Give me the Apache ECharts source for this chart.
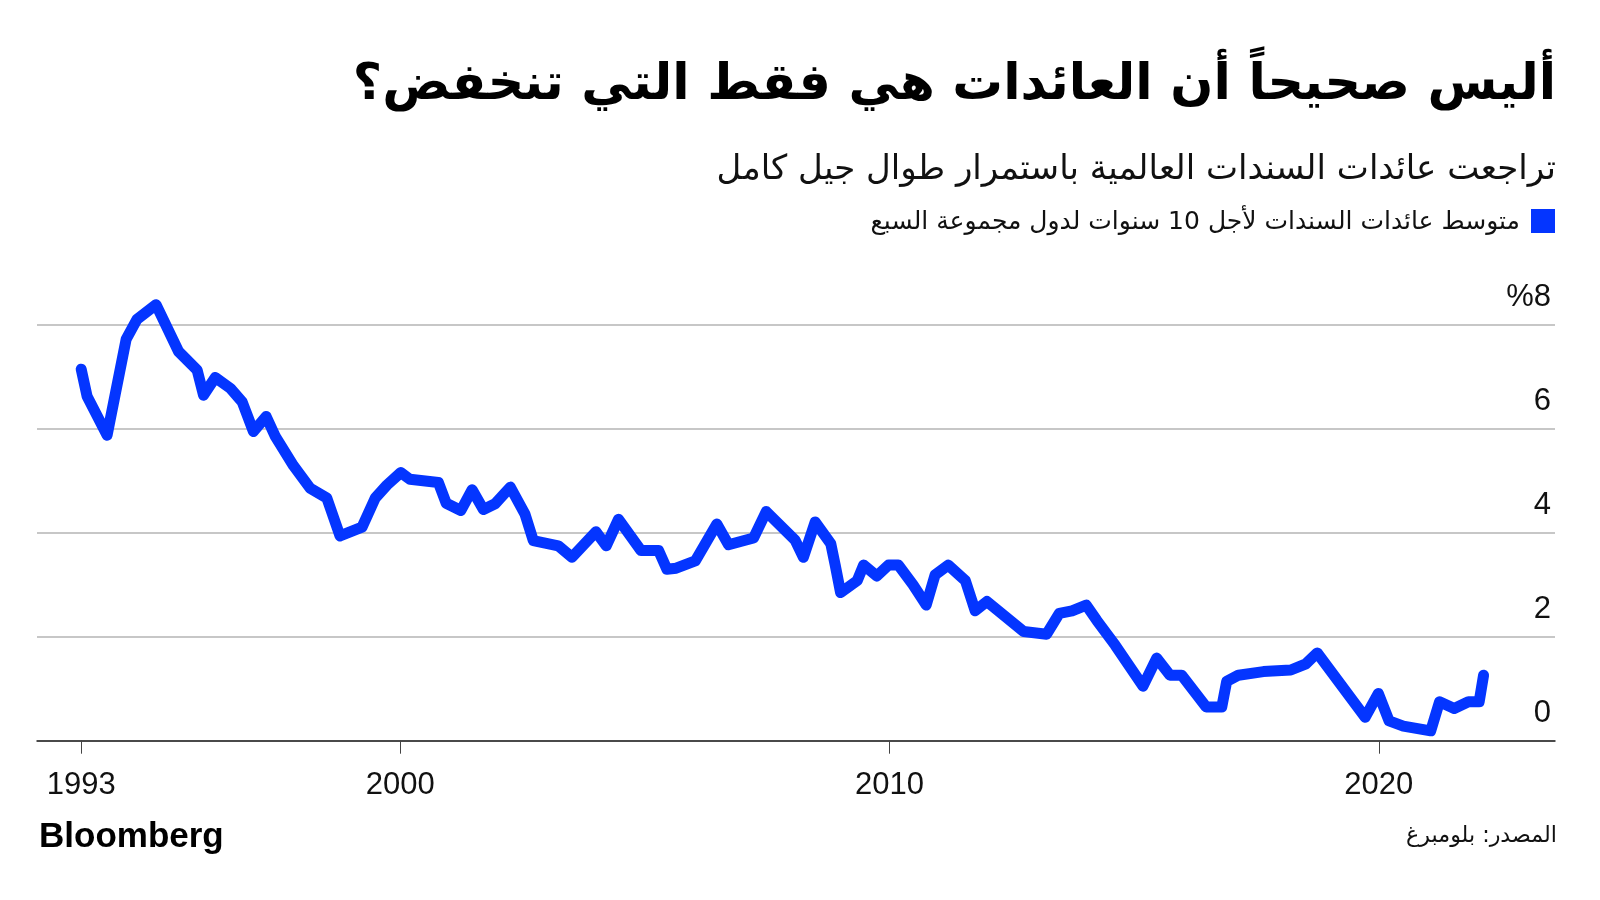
<!DOCTYPE html>
<html><head><meta charset="utf-8">
<script src="https://cdn.jsdelivr.net/npm/echarts@6/dist/echarts.min.js"></script>
<style>html,body{margin:0;padding:0;background:#fff}#c{width:1600px;height:900px}</style>
</head><body><div id="c"></div>
<script>
// ---- data ----
const years = [1993.48,1993.60,1994.01,1994.40,1994.62,1995.01,1995.47,1995.85,1995.98,1996.22,
  1996.53,1996.77,1997.00,1997.26,1997.45,1997.82,1998.16,1998.50,1998.77,1999.22,
  1999.49,1999.73,2000.01,2000.20,2000.78,2000.94,2001.24,2001.47,2001.70,2001.94,
  2002.25,2002.55,2002.72,2003.23,2003.51,2004.00,2004.21,2004.46,2004.92,2005.28,
  2005.45,2005.64,2006.03,2006.47,2006.71,2007.22,2007.48,2008.07,2008.24,2008.48,
  2008.80,2008.89,2009.00,2009.34,2009.47,2009.74,2009.98,2010.18,2010.48,2010.75,
  2010.93,2011.20,2011.55,2011.75,2011.99,2012.74,2013.21,2013.47,2013.73,2014.02,
  2014.24,2014.61,2015.18,2015.46,2015.73,2015.97,2016.47,2016.79,2016.89,2017.13,
  2017.64,2018.20,2018.51,2018.74,2019.72,2019.99,2020.21,2020.50,2021.06,2021.24,
  2021.54,2021.83,2022.05,2022.14];
const yields = [7.15,6.63,5.88,7.73,8.11,8.39,7.49,7.13,6.65,6.99,
  6.78,6.52,5.95,6.24,5.85,5.29,4.86,4.67,3.94,4.11,
  4.67,4.92,5.16,5.03,4.97,4.57,4.43,4.83,4.45,4.56,
  4.88,4.36,3.85,3.75,3.53,4.02,3.75,4.26,3.66,3.66,
  3.30,3.32,3.46,4.17,3.77,3.90,4.41,3.86,3.53,4.21,
  3.79,3.38,2.85,3.08,3.38,3.17,3.38,3.38,3.00,2.61,
  3.19,3.38,3.08,2.50,2.68,2.10,2.05,2.45,2.50,2.61,
  2.31,1.84,1.05,1.59,1.26,1.26,0.65,0.65,1.14,1.26,
  1.33,1.36,1.48,1.69,0.45,0.91,0.38,0.28,0.19,0.75,
  0.62,0.75,0.75,1.26];
const xTickYears = [1993.48, 2000, 2010, 2020];
const xTickLabels = ['1993', '2000', '2010', '2020'];
const yTicks = [0, 2, 4, 6, 8];
const yTickLabels = ['0', '2', '4', '6', '%8'];

const titleText = 'أليس صحيحاً أن العائدات هي فقط التي تنخفض؟';
const subtitleText = 'تراجعت عائدات السندات العالمية باستمرار طوال جيل كامل';
const legendText = 'متوسط عائدات السندات لأجل 10 سنوات لدول مجموعة السبع';
const sourceText = 'المصدر: بلومبرغ';
const logoText = 'Bloomberg';

// ---- styling ----
const BLUE = '#0435ff';
const AR = 'DejaVu Sans';
const rtl = s => '\u202B' + s + '\u202C';
const mctx = document.createElement('canvas').getContext('2d');
function fit(text, weight, family, targetW) {
  mctx.font = weight + ' 100px "' + family + '"';
  const w = mctx.measureText(text).width;
  return Math.round(1000 * targetW / w) / 10;
}
const tSize = fit(rtl(titleText), 'bold', AR, 1204);
const sSize = fit(rtl(subtitleText), 'normal', AR, 840);
const lSize = fit(rtl(legendText), 'normal', AR, 650);
const srcSize = fit(rtl(sourceText), 'normal', AR, 151);

const chart = echarts.init(document.getElementById('c'), null, {renderer: 'canvas'});
chart.setOption({
  animation: false,
  backgroundColor: '#fff',
  grid: {left: 37, right: 45, top: 325, bottom: 159.3, containLabel: false},
  xAxis: {
    type: 'value', min: 1992.577, max: 2023.6,
    splitLine: {show: false},
    axisLine: {show: true, lineStyle: {color: '#222', width: 1.5}},
    axisTick: {show: true, customValues: xTickYears, length: 13, lineStyle: {color: '#444', width: 1}},
    axisLabel: {
      show: true, customValues: xTickYears, margin: 29,
      fontFamily: 'Liberation Sans', fontSize: 31, color: '#111',
      formatter: v => {
        let best = 0;
        xTickYears.forEach((t, i) => { if (Math.abs(t - v) < Math.abs(xTickYears[best] - v)) best = i; });
        return xTickLabels[best];
      }
    }
  },
  yAxis: {
    type: 'value', position: 'right', min: 0, max: 8, interval: 2,
    axisLine: {show: false}, axisTick: {show: false},
    splitLine: {show: true, lineStyle: {color: '#b4b4b4', width: 1.5}},
    axisLabel: {
      inside: true, margin: 4, verticalAlign: 'bottom', padding: [0, 0, 12, 0],
      fontFamily: 'Liberation Sans', fontSize: 31, color: '#111',
      formatter: v => yTickLabels[yTicks.indexOf(v)]
    }
  },
  series: [{
    type: 'line', clip: false, showSymbol: false, symbol: 'none',
    data: years.map((y, i) => [y, yields[i]]),
    lineStyle: {color: BLUE, width: 11, join: 'round', cap: 'round'},
    z: 5
  }],
  graphic: [
    {type: 'text', right: 44, top: 60, style: {text: rtl(titleText), font: 'bold ' + tSize + 'px "' + AR + '"', fill: '#000'}},
    {type: 'text', right: 44, top: 153, style: {text: rtl(subtitleText), font: 'normal ' + sSize + 'px "' + AR + '"', fill: '#111'}},
    {type: 'rect', shape: {x: 1531, y: 209, width: 24, height: 24}, style: {fill: BLUE}},
    {type: 'text', right: 80, top: 210, style: {text: rtl(legendText), font: 'normal ' + lSize + 'px "' + AR + '"', fill: '#111'}},
    {type: 'text', right: 43, top: 825, style: {text: rtl(sourceText), font: 'normal ' + srcSize + 'px "' + AR + '"', fill: '#111'}},
    {type: 'text', left: 39, top: 820, style: {text: logoText, font: 'bold 35px "Liberation Sans"', fill: '#000'}}
  ]
});
</script></body></html>
